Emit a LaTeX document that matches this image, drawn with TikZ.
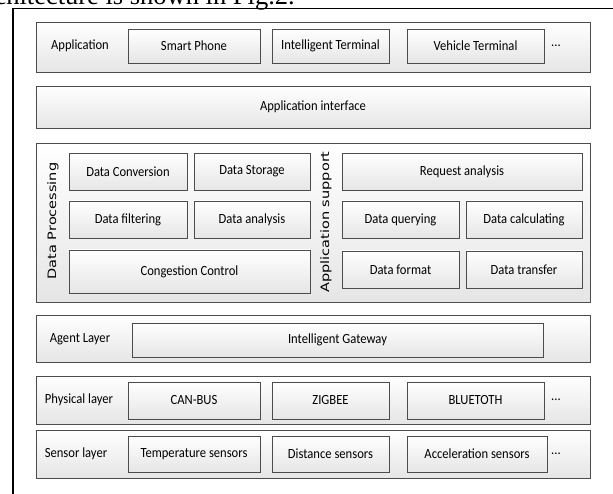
\documentclass[tikz,border=0pt]{standalone}
\usepackage{graphicx}
\usepackage{fontspec}
\setmainfont{Carlito}[FakeStretch=0.9]
\newfontfamily\sidefont{DejaVu Sans}
\newfontfamily\pagefont{Liberation Serif}
\usepackage{tikz}
\usetikzlibrary{positioning, shadows}

\tikzset{
    layerbox/.style={draw=black!70, line width=0.6pt, top color=white, bottom color=black!10,
        drop shadow={opacity=0.3, shadow xshift=1.2pt, shadow yshift=-1.2pt},
        inner sep=0pt, outer sep=0pt, font=\fontsize{14}{16}\selectfont},
    itembox/.style={layerbox},
    rowlabel/.style={inner sep=0pt, font=\fontsize{14}{16}\selectfont},
    sidelabel/.style={rotate=90, inner sep=0pt, font=\sidefont\fontsize{14.5}{16}\selectfont}
}

\begin{document}
\begin{tikzpicture}[x=1pt, y=-1pt]
    \useasboundingbox (0,0) rectangle (613,494);
    \clip (0,0) rectangle (613,494);

    % caption line of the page, cut by the top edge
    \node[anchor=base east, inner sep=0pt, font=\pagefont\fontsize{26.5}{28}\selectfont]
        (pagetext) at (295,5) {architecture is shown in Fig.2.};

    % frame
    \draw[black, line width=1.4pt] (13,500) -- (13,8.5) -- (620,8.5);

    % layers
    \foreach \name/\xa/\ya/\xb/\yb/\txt in {
        app/36/22/590/72/{},
        api/36/86/590/128/{Application interface},
        mid/36/143/590/302/{},
        agent/36/315/590/362/{},
        phys/36/376/590/424/{},
        sens/36/430/590/478/{}}{

        \node[layerbox, minimum width={(\xb-\xa)*1pt}, minimum height={(\yb-\ya)*1pt}]
            (\name) at ({(\xa+\xb)/2},{(\ya+\yb)/2}) {\txt};
    }

    % boxes inside the layers
    \foreach \name/\xa/\ya/\xb/\yb/\txt in {
        phone/128/29/260/63/{Smart Phone},
        iterm/272/29/389/63/{Intelligent Terminal},
        vterm/407/29/544/63/{Vehicle Terminal},
        conv/69/153/187/190/{Data Conversion},
        store/194/153/310/190/{Data Storage},
        filt/69/201/187/238/{Data filtering},
        anal/194/201/310/238/{Data analysis},
        cong/69/250/310/293/{Congestion Control},
        req/342/153/582/190/{Request analysis},
        query/342/201/459/238/{Data querying},
        calc/466/201/582/238/{Data calculating},
        form/342/251/459/288/{Data format},
        trans/466/251/582/288/{Data transfer},
        gate/132/323/543/357/{Intelligent Gateway},
        can/128/382/260/419/{CAN-BUS},
        zig/272/382/389/419/{ZIGBEE},
        blue/407/382/544/419/{BLUETOTH},
        temp/128/436/260/472/{Temperature sensors},
        dist/272/436/389/472/{Distance sensors},
        acc/407/436/547/472/{Acceleration sensors}}{

        \node[itembox, minimum width={(\xb-\xa)*1pt}, minimum height={(\yb-\ya)*1pt}]
            (\name) at ({(\xa+\xb)/2},{(\ya+\yb)/2}) {\txt};
    }

    % row names and dots
    \foreach \name/\x/\y/\txt in {
        applabel/80/46/Application,
        agentlabel/80/339/{Agent Layer},
        physlabel/79/400/{Physical layer},
        senslabel/76/454/{Sensor layer},
        appmore/556/46/{...},
        physmore/556/400/{...},
        sensmore/556/454/{...}}{

        \node[rowlabel] (\name) at (\x,\y) {\txt};
    }

    \node[sidelabel] (dplabel) at (53,221) {\scalebox{1}[0.8]{Data Processing}};
    \node[sidelabel] (aslabel) at (326,222) {\scalebox{1}[0.8]{Application support}};
\end{tikzpicture}
\end{document}
